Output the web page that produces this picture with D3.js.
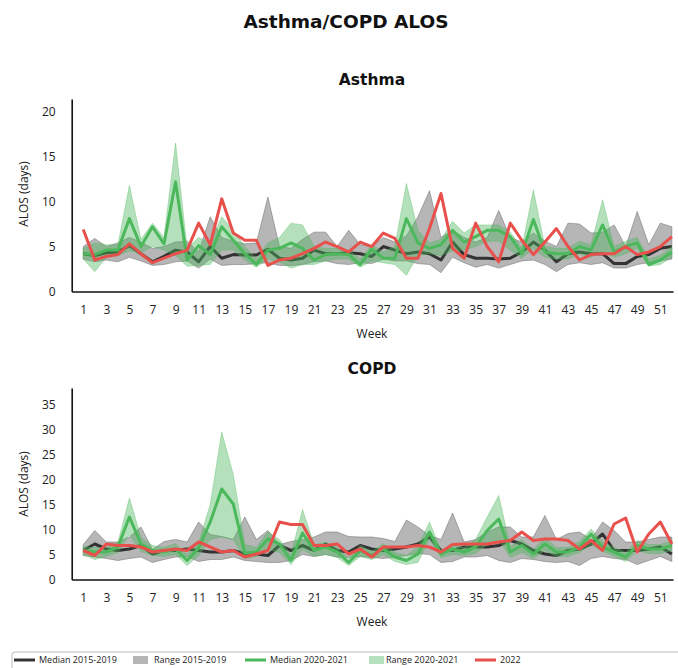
<!DOCTYPE html>
<html>
<head>
<meta charset="utf-8">
<script src="https://cdn.jsdelivr.net/npm/d3@7"></script>
<style>
  body { margin: 0; background: #fff; }
  svg { display: block; }
</style>
</head>
<body>
<svg id="chart" width="678" height="668"></svg>
<script>
// ---------- DATA ----------
const weeks = d3.range(1, 53);
const xTickWeeks = d3.range(1, 52, 2);

// Asthma
const asthmaMedHist = [4.2,4.0,4.3,4.4,5.1,4.2,3.3,3.9,4.6,4.4,3.3,5.0,3.7,4.1,4.06,4.06,4.7,3.7,3.5,3.7,4.6,4.2,4.2,4.3,4.2,3.9,5.0,4.6,4.2,4.4,4.2,3.5,5.5,4.1,3.7,3.7,3.6,3.7,4.4,5.5,4.6,3.3,4.2,4.4,4.2,4.2,3.1,3.1,3.9,4.1,4.8,5.0];
const asthmaMinHist = [3.6,3.3,3.5,3.3,3.8,3.4,2.9,3.0,3.3,3.4,2.6,3.6,2.9,3.0,3.0,3.1,3.2,2.9,2.9,3.0,3.3,3.4,3.1,3.0,3.2,3.1,3.6,3.4,3.4,3.1,3.0,2.1,3.8,3.2,2.7,3.0,2.6,3.0,3.4,3.5,3.0,2.2,3.0,3.2,3.0,3.2,2.6,2.6,3.0,3.2,3.4,3.6];
const asthmaMaxHist = [5.0,5.9,5.0,5.4,6.0,5.5,4.8,5.0,5.5,5.6,4.4,8.3,6.0,5.6,5.3,5.4,10.5,5.0,4.8,5.8,6.6,6.6,5.0,6.8,5.2,5.0,6.0,5.5,6.2,8.3,11.2,6.0,6.8,6.0,5.5,6.0,9.0,6.0,5.5,6.5,5.6,5.0,7.6,7.5,6.5,6.6,7.4,5.0,8.9,5.2,7.6,7.2];
const asthmaMedRecent = [4.2,4.1,4.6,4.6,8.1,5.0,7.2,5.3,12.2,3.5,5.1,4.1,7.2,5.7,4.2,3.0,4.6,4.8,5.4,4.8,3.5,4.1,4.2,4.1,3.0,4.7,3.7,3.7,8.1,5.4,4.8,5.2,6.8,5.5,6.1,6.8,6.8,6.1,4.2,8.0,4.4,4.2,4.2,5.0,4.6,7.4,4.4,5.0,5.4,3.0,3.5,4.4];
const asthmaMinRecent = [3.6,2.2,3.8,4.0,4.5,4.3,5.0,4.6,4.0,2.8,2.9,3.0,4.6,4.6,3.5,2.7,3.6,3.3,2.6,3.0,3.0,3.4,3.6,3.6,2.7,3.4,3.2,3.0,1.8,4.0,4.2,4.0,4.5,4.6,5.0,5.6,5.6,4.6,3.7,4.8,3.8,3.6,3.6,4.2,3.8,4.5,3.8,4.2,4.8,2.8,3.0,3.8];
const asthmaMaxRecent = [4.8,5.4,5.2,5.2,11.8,5.8,7.6,6.0,16.5,4.8,6.0,5.4,8.3,6.8,5.0,3.6,5.4,6.0,7.6,7.4,5.0,4.8,4.8,4.6,3.6,5.2,4.4,5.0,12.0,6.8,5.4,5.8,7.8,6.5,7.4,7.4,7.4,6.6,4.8,11.3,5.0,4.8,4.8,5.6,5.2,10.2,5.0,5.6,6.0,3.6,4.0,5.0];
const asthma2022 = [6.9,3.5,3.9,4.1,5.3,4.2,3.2,3.7,4.2,4.6,7.6,5.2,10.3,6.5,5.7,5.7,2.9,3.5,3.7,4.2,4.8,5.5,5.0,4.4,5.5,5.0,6.5,5.9,3.7,3.7,7.0,10.9,4.8,3.7,7.6,5.0,3.3,7.6,5.7,4.1,5.5,7.0,5.0,3.5,4.1,4.2,4.2,5.0,4.1,4.4,5.0,6.1];
const asthmaYTicks = [0,5,10,15,20];

// COPD
const copdMedHist = [5.8,7.1,6.1,5.8,6.1,6.8,5.1,5.8,5.8,6.1,5.8,5.5,5.5,5.8,5.1,5.1,4.8,6.8,5.8,6.8,5.8,7.1,5.8,5.5,6.8,6.1,5.8,6.1,6.5,7.1,8.5,5.8,5.8,6.5,6.5,6.5,6.8,7.8,7.1,5.8,5.1,4.8,5.8,6.1,7.1,9.1,5.8,5.8,5.8,6.1,6.5,5.1];
const copdMinHist = [4.8,4.5,4.2,3.8,4.2,4.5,3.4,4.0,4.5,4.6,3.6,4.0,4.0,4.5,3.8,3.6,3.4,3.4,3.8,5.0,4.6,5.0,4.5,4.4,4.6,4.4,4.2,4.5,4.8,5.2,5.0,3.4,3.6,4.5,4.5,4.8,3.8,3.4,4.2,4.0,3.6,3.4,3.6,2.8,4.2,4.6,4.2,4.0,3.0,3.8,4.6,3.6];
const copdMaxHist = [7.0,9.8,7.5,7.5,8.5,10.5,6.0,7.6,8.0,7.5,11.5,9.0,8.6,8.0,12.5,8.0,9.8,7.0,7.6,8.0,8.5,9.5,9.5,8.6,8.5,8.5,8.2,7.6,11.9,10.5,8.8,8.0,13.3,7.5,8.0,9.5,10.5,10.5,8.5,8.5,12.8,8.0,9.2,9.5,8.0,11.5,9.8,7.5,7.5,8.0,8.5,8.5];
const copdMedRecent = [5.8,5.5,5.5,6.5,12.5,7.1,5.8,5.5,6.1,3.8,6.3,11.5,18.1,15.1,5.3,5.5,8.1,7.1,3.8,9.3,5.8,6.5,5.5,3.4,5.8,4.8,6.1,4.5,3.8,5.1,9.5,5.1,6.1,5.5,6.5,9.8,12.1,5.5,6.8,5.1,7.1,5.5,5.5,6.5,9.1,6.5,5.5,4.5,6.8,6.1,6.1,6.8];
const copdMinRecent = [5.0,4.0,4.6,5.4,9.0,5.6,4.8,4.6,5.0,2.8,4.8,8.0,8.5,8.0,4.2,4.6,6.0,5.4,3.0,6.0,4.6,5.0,4.4,2.8,4.6,4.0,5.0,3.6,3.0,3.4,8.0,4.4,5.0,4.8,5.2,7.0,8.0,4.4,5.4,4.2,5.8,4.6,4.6,5.4,7.0,5.6,4.6,3.6,5.8,5.2,5.2,5.8];
const copdMaxRecent = [6.6,6.4,6.4,7.4,16.3,8.4,6.8,6.4,7.2,5.0,7.4,15.0,29.5,21.0,7.0,6.4,9.6,8.0,5.0,14.0,7.0,7.4,6.4,4.2,6.8,5.6,7.2,5.4,4.8,6.6,11.5,5.8,7.0,6.4,8.0,12.5,16.8,6.6,8.0,6.0,8.4,6.4,6.4,7.6,10.1,7.6,6.4,5.4,7.8,7.0,7.0,7.8];
const copd2022 = [5.8,4.8,7.1,6.8,6.8,6.5,5.5,5.8,6.1,5.8,7.5,6.5,5.5,5.8,4.5,5.1,5.8,11.5,11.0,11.0,6.8,6.8,7.1,5.1,6.1,4.5,6.5,6.5,6.5,6.8,6.5,5.5,7.0,7.1,7.1,7.1,7.5,7.8,9.5,7.8,8.1,8.1,7.8,6.1,7.8,5.8,11.1,12.3,5.5,9.1,11.5,7.1];
const copdYTicks = [0,5,10,15,20,25,30,35];

const legendLabels = ["Median 2015-2019","Range 2015-2019","Median 2020-2021","Range 2020-2021","2022"];

// ---------- STYLE ----------
const C = {
  histLine: "#333333", histFill: "#7a7a7a",
  recLine: "#4cb85c", recFill: "#4cb85c",
  line22: "#e8504c"
};
const tickFont = "'Open Sans', sans-serif";
const titleFont = "'DejaVu Sans', sans-serif";

const svg = d3.select("#chart");

svg.append("text").attr("x", 346).attr("y", 28).attr("text-anchor", "middle")
  .attr("font-family", titleFont).attr("font-weight", "bold").attr("font-size", 18.5)
  .attr("fill", "#111").text("Asthma/COPD ALOS");

function panel(cfg) {
  const x = d3.scaleLinear().domain([0, 52.1]).range([71.7, 673]);
  const y = d3.scaleLinear().domain([0, cfg.yMax]).range([cfg.y0, cfg.yTop]);
  const g = svg.append("g");

  const area = (lo, hi) => d3.area()
    .x((d, i) => x(weeks[i]))
    .y0((d, i) => y(lo[i])).y1((d, i) => y(hi[i]))(weeks);
  const line = (vals) => d3.line().x((d, i) => x(weeks[i])).y((d, i) => y(vals[i]))(weeks);

  g.append("path").attr("d", area(cfg.minH, cfg.maxH))
    .attr("fill", C.histFill).attr("fill-opacity", 0.55)
    .attr("stroke", "#6a6a6a").attr("stroke-opacity", 0.5).attr("stroke-width", 1);
  g.append("path").attr("d", line(cfg.medH)).attr("fill", "none")
    .attr("stroke", C.histLine).attr("stroke-width", 3).attr("stroke-linejoin", "round");
  g.append("path").attr("d", area(cfg.minR, cfg.maxR))
    .attr("fill", C.recFill).attr("fill-opacity", 0.42)
    .attr("stroke", C.recFill).attr("stroke-opacity", 0.35).attr("stroke-width", 1);
  g.append("path").attr("d", line(cfg.medR)).attr("fill", "none")
    .attr("stroke", C.recLine).attr("stroke-width", 3).attr("stroke-linejoin", "round");
  g.append("path").attr("d", line(cfg.v22)).attr("fill", "none")
    .attr("stroke", C.line22).attr("stroke-width", 3).attr("stroke-linejoin", "round");

  // axes
  const xAxis = d3.axisBottom(x).tickValues(xTickWeeks).tickSize(0).tickPadding(14);
  const gx = g.append("g").attr("transform", `translate(0,${cfg.y0})`).call(xAxis);
  gx.select(".domain").attr("stroke", "#111").attr("stroke-width", 1.6);
  gx.selectAll("text").attr("font-family", tickFont).attr("font-size", 12).attr("fill", "#222");

  const yAxis = d3.axisLeft(y).tickValues(cfg.yTicks).tickSize(0).tickPadding(16);
  const gy = g.append("g").attr("transform", `translate(71.7,0)`).call(yAxis);
  gy.select(".domain").attr("stroke", "#111").attr("stroke-width", 1.6);
  gy.selectAll("text").attr("font-family", tickFont).attr("font-size", 12).attr("fill", "#222");

  g.append("text").attr("x", 372).attr("y", cfg.y0 + 46).attr("text-anchor", "middle")
    .attr("font-family", tickFont).attr("font-size", 12).attr("fill", "#222").text("Week");
  g.append("text").attr("transform", `translate(28,${cfg.yLabel}) rotate(-90)`)
    .attr("text-anchor", "middle")
    .attr("font-family", tickFont).attr("font-size", 12).attr("fill", "#222").text("ALOS (days)");
  g.append("text").attr("x", 372).attr("y", cfg.titleY).attr("text-anchor", "middle")
    .attr("font-family", titleFont).attr("font-weight", "bold").attr("font-size", 15.5)
    .attr("fill", "#111").text(cfg.title);
}

panel({ title: "Asthma", titleY: 85, y0: 291.5, yTop: 99, yMax: 21.4, yTicks: asthmaYTicks, yLabel: 194,
  medH: asthmaMedHist, minH: asthmaMinHist, maxH: asthmaMaxHist,
  medR: asthmaMedRecent, minR: asthmaMinRecent, maxR: asthmaMaxRecent, v22: asthma2022 });
panel({ title: "COPD", titleY: 374, y0: 579.5, yTop: 388, yMax: 38.3, yTicks: copdYTicks, yLabel: 484,
  medH: copdMedHist, minH: copdMinHist, maxH: copdMaxHist,
  medR: copdMedRecent, minR: copdMinRecent, maxR: copdMaxRecent, v22: copd2022 });

// ---------- LEGEND ----------
const lg = svg.append("g");
lg.append("rect").attr("x", 12).attr("y", 652).attr("width", 700).attr("height", 40)
  .attr("rx", 3).attr("fill", "#fff").attr("stroke", "#bbb").attr("stroke-width", 1);
const items = [
  { type: "line", color: C.histLine, x: 14, tx: 39 },
  { type: "rect", color: C.histFill, op: 0.55, x: 133, tx: 154 },
  { type: "line", color: C.recLine, x: 245, tx: 270 },
  { type: "rect", color: C.recFill, op: 0.42, x: 369, tx: 386 },
  { type: "line", color: C.line22, x: 475, tx: 500 }
];
items.forEach((it, i) => {
  if (it.type === "line") {
    lg.append("line").attr("x1", it.x).attr("x2", it.x + 21).attr("y1", 660).attr("y2", 660)
      .attr("stroke", it.color).attr("stroke-width", 3);
  } else {
    lg.append("rect").attr("x", it.x).attr("y", 656).attr("width", 15).attr("height", 8)
      .attr("fill", it.color).attr("fill-opacity", it.op);
  }
  lg.append("text").attr("x", it.tx).attr("y", 660).attr("dy", "0.35em")
    .attr("font-family", tickFont).attr("font-size", 9).attr("fill", "#222").text(legendLabels[i]);
});
</script>
</body>
</html>
